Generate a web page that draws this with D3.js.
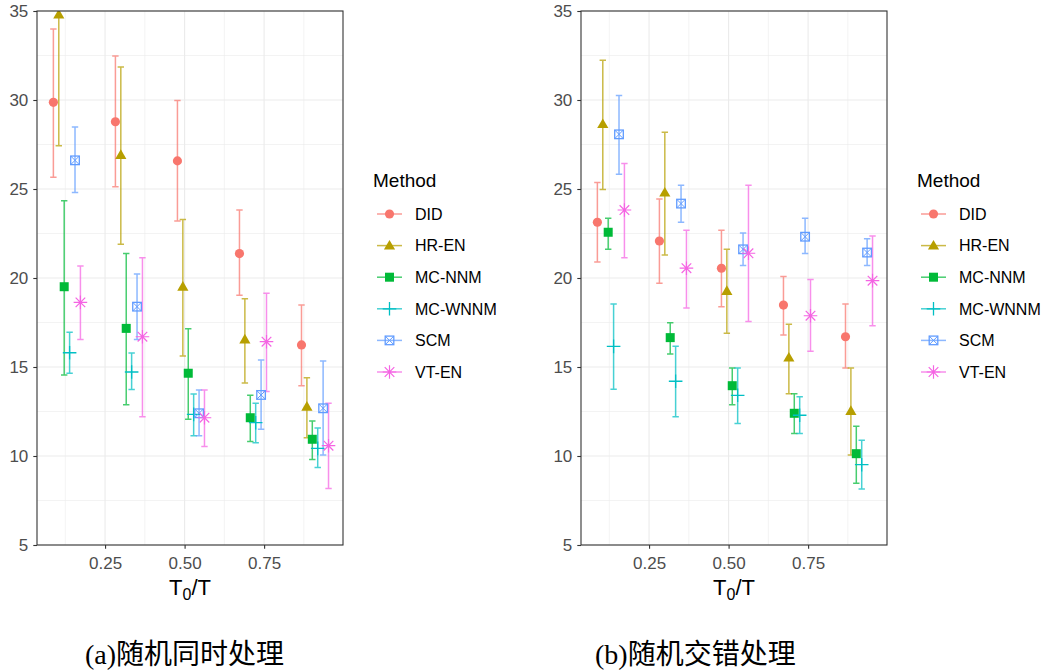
<!DOCTYPE html>
<html>
<head>
<meta charset="utf-8">
<script src="https://cdn.jsdelivr.net/npm/d3@7"></script>
<style>
  body { margin: 0; background: #fff; }
  text { font-family: "Liberation Sans", Arial, sans-serif; }
</style>
</head>
<body>
<svg id="chart" width="1044" height="672"></svg>
<script>
// ---- data ----
const methods = ['DID', 'HR-EN', 'MC-NNM', 'MC-WNNM', 'SCM', 'VT-EN'];
const colors = ['#F8766D', '#B79F00', '#00BA38', '#00BFC4', '#619CFF', '#F564E3'];
const ratios = [0.13, 0.325, 0.52, 0.715, 0.91];
const xTicks = [0.25, 0.5, 0.75];
const xMinor = [0.125, 0.375, 0.625, 0.875];
const yTicks = [5, 10, 15, 20, 25, 30, 35];
const yMinor = [7.5, 12.5, 17.5, 22.5, 27.5, 32.5];
const captions = ['(a)随机同时处理', '(b)随机交错处理'];

// panel (a): rows = methods, columns = ratios
const meanA = [
  [29.87, 28.78, 26.58, 21.37, 16.24],
  [34.8, 26.91, 19.51, 16.55, 12.77],
  [19.51, 17.17, 14.65, 12.15, 10.94],
  [15.80, 14.72, 12.34, 11.87, 10.43],
  [26.61, 18.39, 12.40, 13.43, 12.68],
  [18.63, 16.70, 12.15, 16.42, 10.58]
];
const lowA = [
  [25.66, 25.12, 23.20, 19.03, 13.95],
  [27.43, 21.89, 15.62, 14.10, 11.03],
  [14.55, 12.88, 12.06, 10.81, 9.81],
  [14.65, 13.73, 11.14, 10.75, 9.35],
  [24.81, 16.55, 11.14, 11.50, 10.06],
  [16.55, 12.21, 10.53, 13.63, 8.18]
];
const highA = [
  [33.99, 32.47, 29.97, 23.82, 18.48],
  [42.2, 31.86, 23.28, 18.84, 14.40],
  [24.34, 21.37, 17.15, 13.41, 11.97],
  [16.95, 15.79, 13.48, 12.96, 11.57],
  [28.48, 20.23, 13.71, 15.39, 15.34],
  [20.67, 21.14, 13.71, 19.14, 12.96]
];

// panel (b)
const meanB = [
  [23.13, 22.08, 20.55, 18.48, 16.70],
  [28.65, 24.80, 19.27, 15.53, 12.53],
  [22.57, 16.65, 13.95, 12.40, 10.13],
  [16.16, 14.20, 13.41, 12.29, 9.51],
  [28.07, 24.18, 21.61, 22.32, 21.43],
  [23.82, 20.55, 21.39, 17.88, 19.85]
];
const lowB = [
  [20.90, 19.70, 18.39, 16.80, 14.94],
  [24.97, 21.29, 16.89, 13.50, 10.06],
  [21.61, 15.73, 12.88, 11.27, 8.47],
  [13.75, 12.21, 11.82, 11.27, 8.15],
  [25.83, 23.13, 20.70, 21.37, 20.70],
  [21.14, 18.32, 17.55, 15.88, 17.32]
];
const highB = [
  [25.36, 24.44, 22.68, 20.08, 18.54],
  [32.23, 28.19, 21.61, 17.40, 14.94],
  [23.35, 17.49, 14.94, 13.50, 11.67],
  [18.54, 16.16, 14.94, 13.33, 10.88],
  [30.25, 25.21, 22.53, 23.35, 22.21],
  [26.43, 22.68, 25.21, 19.91, 22.36]
];

// ---- layout ----
const W = 306, H = 534;
const dodge = 0.017;
const panels = [
  { left: 37, top: 11, mean: meanA, low: lowA, high: highA, legX: 373, capX: 85, caption: captions[0] },
  { left: 581, top: 11, mean: meanB, low: lowB, high: highB, legX: 917, capX: 595, caption: captions[1] }
];

const svg = d3.select('#chart');

const x = d3.scaleLinear().domain([0.036, 0.998]).range([0, W]);
const y = d3.scaleLinear().domain([5, 35]).range([H, 0]);

// draw a marker for method index m at (0,0)
function marker(g, m, color) {
  if (m === 0) {
    g.append('path').attr('d', d3.symbol(d3.symbolCircle, 66)()).attr('fill', color);
  } else if (m === 1) {
    g.append('path').attr('d', d3.symbol(d3.symbolTriangle, 54)()).attr('fill', color)
      .attr('transform', 'translate(0,0.8)');
  } else if (m === 2) {
    g.append('rect').attr('x', -4.5).attr('y', -4.5).attr('width', 9).attr('height', 9).attr('fill', color);
  } else if (m === 3) {
    g.append('path').attr('d', 'M-6.8,0H6.8M0,-6.8V6.8')
      .attr('stroke', color).attr('stroke-width', 1.3).attr('fill', 'none');
  } else if (m === 4) {
    g.append('rect').attr('x', -4.3).attr('y', -4.3).attr('width', 8.6).attr('height', 8.6)
      .attr('fill', 'none').attr('stroke', color).attr('stroke-width', 1.3);
    g.append('path').attr('d', 'M-4.3,-4.3L4.3,4.3M-4.3,4.3L4.3,-4.3')
      .attr('stroke', color).attr('stroke-width', 1).attr('fill', 'none');
  } else {
    g.append('path').attr('d', 'M-6.8,0H6.8M0,-6.8V6.8M-4.8,-4.8L4.8,4.8M-4.8,4.8L4.8,-4.8')
      .attr('stroke', color).attr('stroke-width', 1.2).attr('fill', 'none');
  }
}

panels.forEach((p, pi) => {
  const g = svg.append('g').attr('transform', `translate(${p.left},${p.top})`);

  // grid
  g.append('g').selectAll('line').data(yMinor).join('line')
    .attr('x1', 0).attr('x2', W).attr('y1', d => y(d)).attr('y2', d => y(d))
    .attr('stroke', '#EBEBEB').attr('stroke-width', 0.6);
  g.append('g').selectAll('line').data(xMinor).join('line')
    .attr('y1', 0).attr('y2', H).attr('x1', d => x(d)).attr('x2', d => x(d))
    .attr('stroke', '#EBEBEB').attr('stroke-width', 0.6);
  g.append('g').selectAll('line').data(yTicks).join('line')
    .attr('x1', 0).attr('x2', W).attr('y1', d => y(d)).attr('y2', d => y(d))
    .attr('stroke', '#EBEBEB').attr('stroke-width', 1.1);
  g.append('g').selectAll('line').data(xTicks).join('line')
    .attr('y1', 0).attr('y2', H).attr('x1', d => x(d)).attr('x2', d => x(d))
    .attr('stroke', '#EBEBEB').attr('stroke-width', 1.1);

  // clip for the data layer
  const clipId = 'clip' + pi;
  g.append('clipPath').attr('id', clipId)
    .append('rect').attr('width', W).attr('height', H);
  const data = g.append('g').attr('clip-path', `url(#${clipId})`);

  // error bars
  methods.forEach((name, m) => {
    const off = (m - 2.5) * dodge;
    const bars = data.append('g')
      .attr('stroke', colors[m]).attr('stroke-opacity', 0.72)
      .attr('stroke-width', 1.5).attr('fill', 'none');
    ratios.forEach((r, i) => {
      const cx = x(r + off);
      const y1 = y(p.low[m][i]), y2 = y(p.high[m][i]);
      bars.append('path')
        .attr('d', `M${cx - 3.2},${y1}H${cx + 3.2}M${cx},${y1}V${y2}M${cx - 3.2},${y2}H${cx + 3.2}`);
    });
  });

  // points
  methods.forEach((name, m) => {
    const off = (m - 2.5) * dodge;
    ratios.forEach((r, i) => {
      const pg = data.append('g')
        .attr('transform', `translate(${x(r + off)},${y(p.mean[m][i])})`);
      marker(pg, m, colors[m]);
    });
  });

  // axes
  const ya = g.append('g')
    .call(d3.axisLeft(y).tickValues(yTicks).tickSize(3.7).tickPadding(5).tickFormat(d3.format('d')));
  const xa = g.append('g').attr('transform', `translate(0,${H})`)
    .call(d3.axisBottom(x).tickValues(xTicks).tickSize(3.7).tickPadding(8).tickFormat(d3.format('.2f')));
  [ya, xa].forEach(a => {
    a.select('.domain').remove();
    a.selectAll('.tick line').attr('stroke', '#333333').attr('stroke-width', 1.1);
    a.selectAll('.tick text').attr('fill', '#4D4D4D').style('font-size', '17px')
      .style('font-family', '"Liberation Sans", Arial, sans-serif');
  });

  // panel border
  g.append('rect').attr('width', W).attr('height', H)
    .attr('fill', 'none').attr('stroke', '#333333').attr('stroke-width', 1.1);

  // axis title T0/T
  const t = g.append('text').attr('x', W / 2).attr('y', H + 50)
    .attr('text-anchor', 'middle').style('font-size', '22px').attr('fill', '#000');
  t.append('tspan').text('T');
  t.append('tspan').text('0').attr('dy', 5).style('font-size', '16px');
  t.append('tspan').text('/T').attr('dy', -5);

  // legend
  const leg = svg.append('g').attr('transform', `translate(${p.legX},0)`);
  leg.append('text').attr('x', 0).attr('y', 187).style('font-size', '19px').text('Method');
  methods.forEach((name, m) => {
    const ly = 214 + m * 31.6;
    leg.append('line').attr('x1', 4).attr('x2', 29).attr('y1', ly).attr('y2', ly)
      .attr('stroke', colors[m]).attr('stroke-opacity', 0.72).attr('stroke-width', 1.5);
    const kg = leg.append('g').attr('transform', `translate(16.5,${ly})`);
    marker(kg, m, colors[m]);
    leg.append('text').attr('x', 42).attr('y', ly).attr('dy', '0.36em')
      .style('font-size', '16px').attr('fill', '#000').text(name);
  });

  // caption
  svg.append('text').attr('x', p.capX).attr('y', 664)
    .style('font-family', '"Liberation Serif", "Noto Sans CJK SC", serif')
    .style('font-size', '28px').attr('fill', '#000').text(p.caption);
});
</script>
</body>
</html>
